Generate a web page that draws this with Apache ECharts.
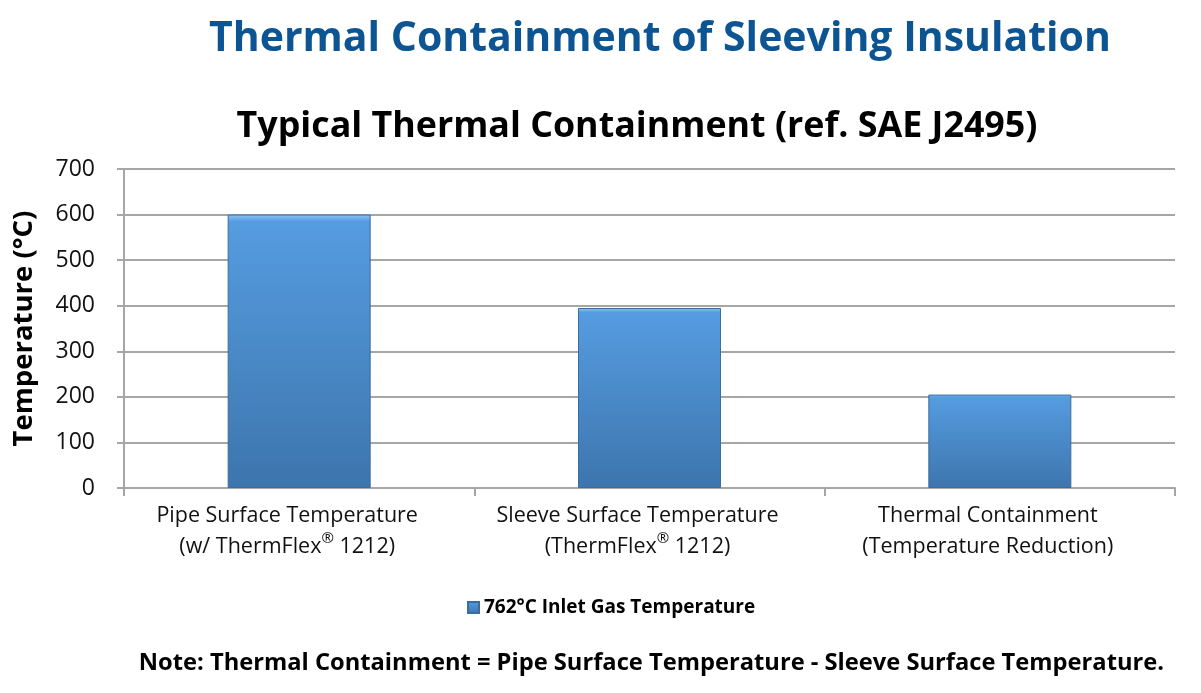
<!DOCTYPE html>
<html>
<head>
    <meta charset="utf-8">
    <title>Thermal Containment</title>
    <script src="https://cdn.jsdelivr.net/npm/echarts@6/dist/echarts.min.js"></script>
    <style>
        html, body { margin: 0; padding: 0; background: #fff; }
        #c { width: 1201px; height: 693px; }
    </style>
</head>
<body>
    <div id="c"></div>
    <script>
        // data
        var categories = [
            'Pipe Surface Temperature\n(w/ ThermFlex{sup|®} 1212)',
            'Sleeve Surface Temperature\n(ThermFlex{sup|®} 1212)',
            'Thermal Containment\n(Temperature Reduction)'
        ];
        var seriesName = '762°C Inlet Gas Temperature';
        var values = [600, 395, 205];

        var font = '"Open Sans", "Noto Sans", sans-serif';
        var gridColor = '#a6a6a6';

        var myChart = echarts.init(document.getElementById('c'));
        var option = {
            backgroundColor: '#fff',
            animation: false,
            title: [{
                text: 'Thermal Containment of Sleeving Insulation',
                left: 655, top: 14, textAlign: 'center',
                textStyle: { fontFamily: font, fontSize: 41, fontWeight: 'bold', color: '#0c5592' }
            }, {
                text: 'Typical Thermal Containment (ref. SAE J2495)',
                left: 632, top: 104, textAlign: 'center',
                textStyle: { fontFamily: font, fontSize: 35.8, fontWeight: 'bold', color: '#000' }
            }, {
                text: 'Note: Thermal Containment = Pipe Surface Temperature - Sleeve Surface Temperature.',
                right: 32, top: 646,
                textStyle: { fontFamily: font, fontSize: 23.7, fontWeight: 'bold', color: '#000' }
            }],
            legend: {
                left: 462, top: 593,
                itemWidth: 11, itemHeight: 11, itemGap: 6,
                icon: 'rect',
                textStyle: { fontFamily: font, fontSize: 19, fontWeight: 'bold', color: '#000' },
                data: [seriesName]
            },
            grid: { left: 124, right: 26, top: 169, bottom: 205, outerBoundsMode: 'none' },
            xAxis: {
                type: 'category',
                data: categories,
                axisLine: { lineStyle: { color: gridColor, width: 2 } },
                axisTick: { show: true, interval: 0, length: 8, lineStyle: { color: gridColor, width: 2 } },
                axisLabel: {
                    interval: 0,
                    margin: 12,
                    padding: [0, 24, 0, 0],
                    fontFamily: font, fontSize: 21.5, color: '#111', lineHeight: 31,
                    rich: {
                        sup: { fontFamily: font, fontSize: 15, color: '#111', verticalAlign: 'top', lineHeight: 22 }
                    }
                }
            },
            yAxis: {
                type: 'value',
                min: 0, max: 700, interval: 100,
                name: 'Temperature (°C)',
                nameLocation: 'middle',
                nameGap: 86,
                nameTextStyle: { fontFamily: font, fontSize: 27.5, fontWeight: 'bold', color: '#000' },
                axisLine: { show: true, lineStyle: { color: gridColor, width: 2 } },
                axisTick: { show: true, length: 7, lineStyle: { color: gridColor, width: 2 } },
                axisLabel: { margin: 29, fontFamily: font, fontSize: 23, color: '#111' },
                splitLine: { lineStyle: { color: gridColor, width: 2 } }
            },
            series: [{
                name: seriesName,
                type: 'bar',
                data: values,
                barWidth: 143,
                itemStyle: {
                    color: new echarts.graphic.LinearGradient(0, 0, 0, 1, [
                        { offset: 0, color: '#8cc6f6' },
                        { offset: 0.025, color: '#559ce0' },
                        { offset: 1, color: '#3d75ad' }
                    ]),
                    borderColor: '#3b6c9f',
                    borderWidth: 1
                }
            }]
        };
        myChart.setOption(option);
    </script>
</body>
</html>
